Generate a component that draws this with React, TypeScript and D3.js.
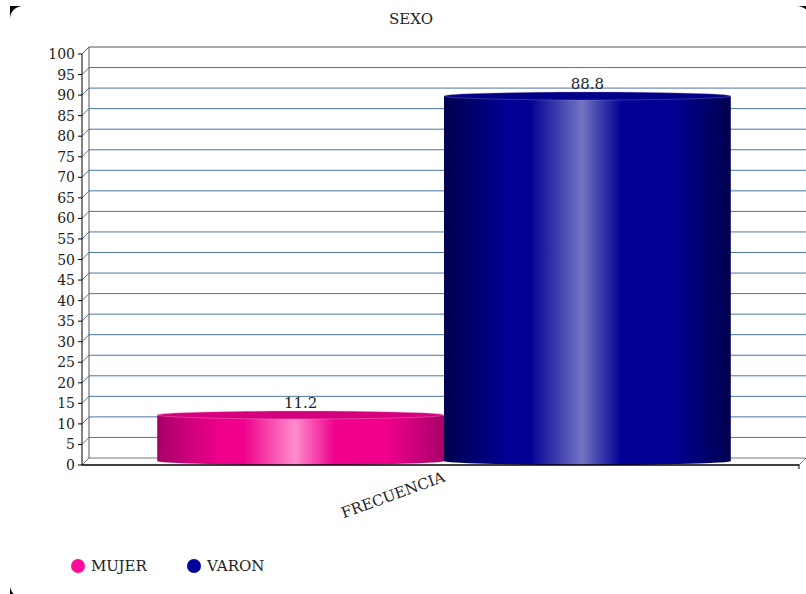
import React from "react";
import * as d3 from "d3";

const title = "SEXO";
const categories = ["FRECUENCIA"];
const seriesNames = ["MUJER", "VARON"];
const seriesValues = [11.2, 88.8];
const yTicks = [0, 5, 10, 15, 20, 25, 30, 35, 40, 45, 50, 55, 60, 65, 70, 75, 80, 85, 90, 95, 100];

const W = 806, H = 594;
const DX = 7, DY = -7;
const FONT = "DejaVu Serif";

const palettes = [
  { edge: "#a8006a", main: "#f0008c", light: "#ff8ccc", cap: "#d4007e", rim: "#ff9fd2", legend: "#ff0d98" },
  { edge: "#00004e", main: "#000094", light: "#7474c4", cap: "#000088", rim: "#8c8cd0", legend: "#00009a" },
];

export default function App() {
  const y = d3.scaleLinear().domain([0, 100]).range([465, 54]);
  const x = d3.scaleBand().domain(categories).range([82 + DX / 2, 799 + DX / 2]);
  const inner = d3.scaleBand().domain(seriesNames).range([0, x.bandwidth()]).paddingOuter(0.25);
  const gridColor = "#4c76a6";
  const ry = 4;

  return (
    <svg width={W} height={H} fontFamily={FONT} style={{ position: "absolute", left: 0, top: 0, background: "#fff" }}>
      <defs>
        {palettes.map((p, i) => (
          <linearGradient key={i} id={`g${i}`} x1="0" x2="1" y1="0" y2="0">
            <stop offset="0" stopColor={p.edge} />
            <stop offset="0.22" stopColor={p.main} />
            <stop offset="0.3" stopColor={p.main} />
            <stop offset="0.48" stopColor={p.light} />
            <stop offset="0.62" stopColor={p.main} />
            <stop offset="0.8" stopColor={p.main} />
            <stop offset="1" stopColor={p.edge} />
          </linearGradient>
        ))}
      </defs>
      <rect x={10} y={6} width={800} height={592} fill="#000" />
      <rect x={10} y={6} width={800} height={592} rx={13} ry={13} fill="#fff" />

      <text x={411} y={24} textAnchor="middle" fontSize={15} fill="#222">{title}</text>

      {yTicks.filter(t => t > 0).map(t => (
        <g key={t}>
          <line x1={82 + DX} x2={806} y1={y(t) + DY} y2={y(t) + DY} stroke={t === 100 ? "#555" : gridColor} strokeWidth={1} />
          <line x1={82} x2={82 + DX} y1={y(t)} y2={y(t) + DY} stroke={t === 100 ? "#555" : gridColor} strokeWidth={1} />
        </g>
      ))}
      <line x1={82 + DX} x2={82 + DX} y1={y(100) + DY} y2={y(0) + DY} stroke="#555" />
      <line x1={82 + DX} x2={806} y1={y(0) + DY} y2={y(0) + DY} stroke="#777" />
      <line x1={82} x2={82 + DX} y1={y(0)} y2={y(0) + DY} stroke="#777" />
      <line x1={799} x2={799 + DX} y1={y(0)} y2={y(0) + DY} stroke="#777" />

      {categories.map(c => seriesValues.map((v, i) => {
        const x0 = (x(c) as number) + (inner(seriesNames[i]) as number);
        const bw = inner.bandwidth();
        const cx = x0 + bw / 2;
        const topY = y(v) - ry;
        const botY = y(0) - ry;
        const p = palettes[i];
        const body = `M${x0},${topY} L${x0},${botY} A${bw / 2},${ry} 0 0 0 ${x0 + bw},${botY} L${x0 + bw},${topY} Z`;
        return (
          <g key={`${c}-${i}`}>
            <path d={body} fill={`url(#g${i})`} />
            <ellipse cx={cx} cy={topY} rx={bw / 2} ry={ry} fill={p.cap} stroke={p.rim} strokeWidth={0.6} strokeOpacity={0.6} />
            <text x={cx} y={y(v) - 11} textAnchor="middle" fontSize={15} fill="#222">{v}</text>
          </g>
        );
      }))}

      <line x1={82} x2={82} y1={y(100)} y2={y(0)} stroke="#000" />
      <line x1={82} x2={799} y1={y(0)} y2={y(0)} stroke="#000" strokeWidth={1.5} />
      <line x1={799} x2={799} y1={y(0)} y2={y(0) + 4} stroke="#000" />
      {yTicks.map(t => (
        <g key={t}>
          <line x1={78} x2={82} y1={y(t)} y2={y(t)} stroke="#000" />
          <text x={75} y={y(t)} dy="0.36em" textAnchor="end" fontSize={14} fill="#222">{t}</text>
        </g>
      ))}

      {categories.map(c => (
        <text key={c} transform={`translate(446,481) rotate(-20)`} textAnchor="end" fontSize={15} fill="#222">{c}</text>
      ))}

      {seriesNames.map((s, i) => (
        <g key={s} transform={`translate(${78 + i * 116},566)`}>
          <circle r={7} fill={palettes[i].legend} />
          <text x={13} dy="0.36em" fontSize={15} fill="#222">{s}</text>
        </g>
      ))}
    </svg>
  );
}
